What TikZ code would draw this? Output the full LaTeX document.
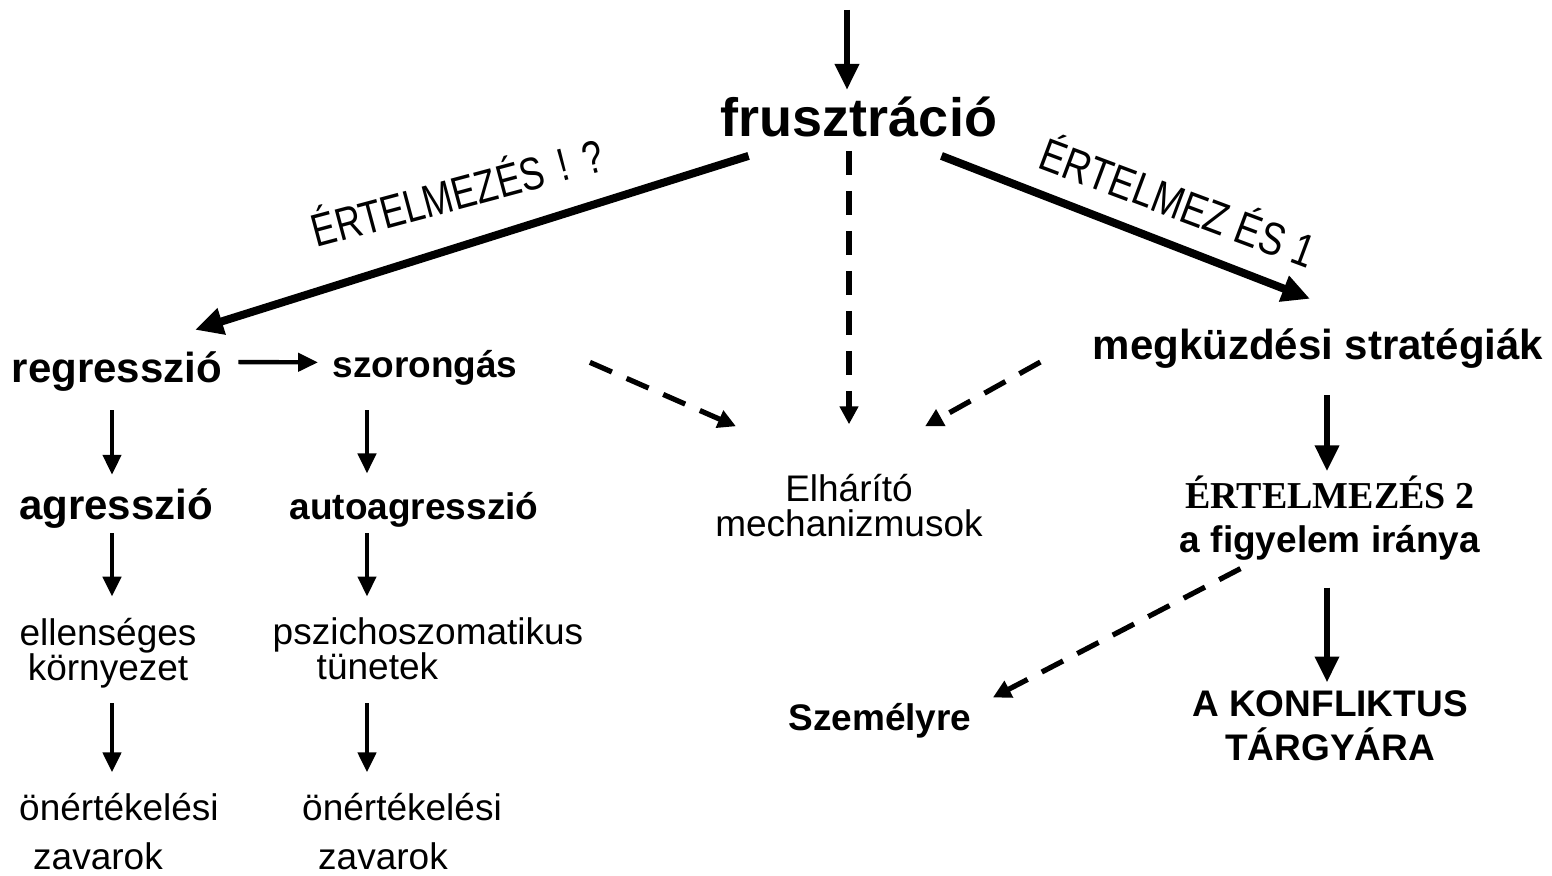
\documentclass[tikz,border=0pt]{standalone}
\usepackage{fontspec}
\usepackage{graphicx}
\setmainfont{Liberation Sans}
\newfontfamily\timesfont{Liberation Serif}
\usetikzlibrary{arrows.meta}
\tikzset{
  every node/.style={inner sep=0pt},
  big/.style={font=\bfseries\fontsize{21}{25}\selectfont},
  mid/.style={font=\bfseries\fontsize{18.5}{22}\selectfont},
  txt/.style={font=\fontsize{18.5}{17.5}\selectfont},
  tilted/.style={font=\fontsize{23}{27}\selectfont, anchor=base},
  arr/.style={line width=2.2pt, -{Triangle[length=10pt,width=9pt]}},
  bigarr/.style={line width=3.2pt, -{Triangle[length=13pt,width=11.5pt]}},
  wide/.style={line width=4pt, -{Triangle[length=14pt,width=13pt]}},
  dasharr/.style={line width=2.6pt, dash pattern=on 12pt off 8pt, -{Triangle[length=9pt,width=9pt]}}
}
\begin{document}
\begin{tikzpicture}[x=0.5pt,y=-0.5pt]
\useasboundingbox (0,0) rectangle (1552,876);
\node[font=\bfseries\fontsize{27}{32}\selectfont, anchor=base] (frus) at (859,137) {frusztráció};
\node[big,anchor=base] (regr) at (117,383) {regresszió};
\node[mid,anchor=base] (szor) at (425,378) {szorongás};
\node[big,anchor=base] (megk) at (1318,360) {megküzdési stratégiák};
\node[big,anchor=base] (agr) at (116,520) {agresszió};
\node[mid,anchor=base] (aagr) at (414,520) {autoagresszió};
\node[txt,align=center] (elh) at (849,506) {Elhárító\\mechanizmusok};
\node[txt,align=center] (ell) at (108,653) {ellenséges\\környezet};
\node[txt,align=left] (psz) at (428,649) {pszichoszomatikus\\\hspace*{22pt}tünetek};
\node[txt,anchor=base] (ert1) at (119,820) {önértékelési};
\node[txt,anchor=base] (zav1) at (98,869) {zavarok};
\node[txt,anchor=base] (ert2) at (402,820) {önértékelési};
\node[txt,anchor=base] (zav2) at (383,869) {zavarok};
\node[mid,align=center] (ertl) at (1330,518) {{\timesfont\fontsize{19}{21}\selectfont ÉRTELMEZÉS 2}\\a figyelem iránya};
\node[mid,align=center] (konf) at (1330,726) {A KONFLIKTUS\\TÁRGYÁRA};
\node[mid,anchor=base] (szem) at (880,730) {Személyre};
\node[tilted,rotate=15] (lbl1) at (462,209) {\scalebox{0.78}[1]{ÉRTELMEZÉS \,!\, ?}};
\node[tilted,rotate=-20.5] (lbl2) at (1172,218) {\scalebox{0.81}[1]{ÉRTELMEZ ÉS 1}};
\coordinate (src) at (847,10);
\draw[bigarr, shorten >=3.5pt] (src) -- (src |- frus.north);
\draw[wide] ([xshift=14pt,yshift=-9pt]frus.south west) -- ([xshift=39pt,yshift=11pt]regr.north);
\draw[wide] ([xshift=-28pt,yshift=-9pt]frus.south east) -- ([xshift=-4pt,yshift=15pt]megk.north);
\draw[dasharr, shorten <=6.5pt, shorten >=25pt] (elh.north |- frus.south) -- (elh.north);
\draw[dasharr] ([xshift=36pt,yshift=3pt]szor.east) -- ([xshift=10.5pt,yshift=24pt]elh.north west);
\draw[dasharr] ([xshift=-26pt,yshift=-6.5pt]megk.west) -- ([xshift=-29pt,yshift=24pt]elh.north east);
\draw[arr] ([xshift=8pt,yshift=5pt]regr.east) -- ([xshift=-7pt,yshift=3pt]szor.west);
\draw[arr, shorten <=9pt, shorten >=7pt] ([xshift=-2.5pt]regr.south) -- ([xshift=-2.5pt]regr.south |- agr.north);
\draw[arr, shorten <=2pt, shorten >=10.5pt] ([xshift=-2pt]agr.south) -- ([xshift=-2pt]agr.south |- ell.north);
\draw[arr, shorten <=7.5pt, shorten >=10pt] ([xshift=2pt]ell.south) -- ([xshift=2pt]ell.south |- ert1.north);
\draw[arr, shorten <=12pt, shorten >=9.5pt] ([xshift=-29pt]szor.south) -- ([xshift=-29pt]szor.south |- aagr.north);
\draw[arr, shorten <=2.5pt, shorten >=10.5pt] ([xshift=-23.5pt]aagr.south) -- ([xshift=-23.5pt]aagr.south |- psz.north);
\draw[arr, shorten <=11.5pt, shorten >=10pt] ([xshift=-30.5pt]psz.south) -- ([xshift=-30.5pt]psz.south |- ert2.north);
\draw[bigarr, shorten <=13pt, shorten >=2pt] ([xshift=4.5pt]megk.south) -- ([xshift=4.5pt]megk.south |- ertl.north);
\draw[bigarr, shorten <=13.5pt, shorten >=4pt] ([xshift=-1.5pt]ertl.south) -- ([xshift=-1.5pt]ertl.south |- konf.north);
\draw[dasharr] ([xshift=30.5pt,yshift=-4pt]ertl.south west) -- ([xshift=10.5pt,yshift=2.5pt]szem.north east);
\end{tikzpicture}
\end{document}
